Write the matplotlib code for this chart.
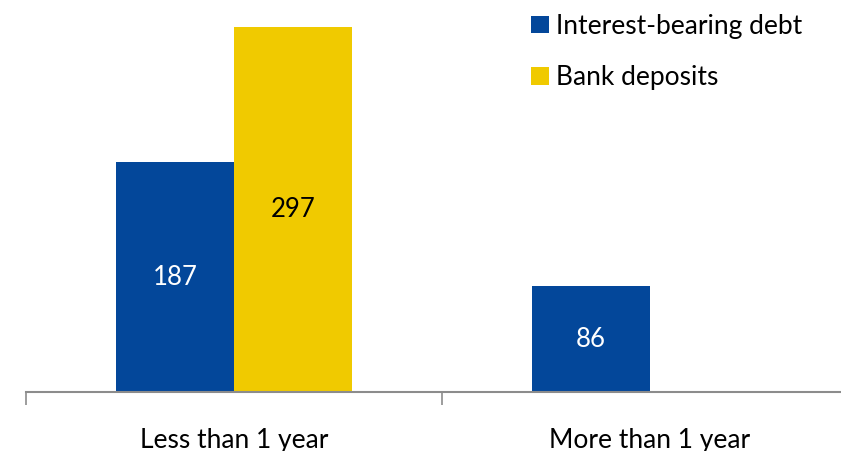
import numpy as np
import matplotlib.pyplot as plt

categories = ['Less than 1 year', 'More than 1 year']
series_names = ['Interest-bearing debt', 'Bank deposits']
debt = [187, 86]
deposits = [297, 0]

blue = '#03479A'
yellow = '#F0CA00'

plt.rcParams['font.family'] = ['Lato', 'DejaVu Sans']

fig = plt.figure(figsize=(8.41, 4.51), dpi=100)
ax = fig.add_axes([26 / 841, 59 / 451, 1 - 26 / 841, 392 / 451])

x = np.arange(len(categories))
w = 0.284
b1 = ax.bar(x - w / 2, debt, w, color=blue, label=series_names[0])
b2 = ax.bar(x + w / 2, deposits, w, color=yellow, label=series_names[1])

for rect, v in zip(b1, debt):
    if v > 0:
        ax.text(rect.get_x() + rect.get_width() / 2, v / 2, str(v),
                ha='center', va='center', color='white', fontsize=18.5)
for rect, v in zip(b2, deposits):
    if v > 0:
        ax.text(rect.get_x() + rect.get_width() / 2, v / 2, str(v),
                ha='center', va='center', color='black', fontsize=18.5)

for s in ['top', 'right', 'left']:
    ax.spines[s].set_visible(False)
ax.spines['bottom'].set_color('#8c8c8c')
ax.spines['bottom'].set_linewidth(1.5)
ax.set_yticks([])

# category separators as major ticks, names on minor ticks
ax.set_xticks([-0.5, 0.5, 1.5])
ax.set_xticklabels([])
ax.tick_params(axis='x', length=9, width=1.2, color='#8c8c8c')
ax.set_xticks(x, minor=True)
ax.set_xticklabels(categories, minor=True, fontsize=19)
ax.tick_params(axis='x', which='minor', length=0, pad=26)

ax.set_xlim(-0.5, 1.459)
ax.set_ylim(0, 319)

leg = ax.legend(loc='upper left', bbox_to_anchor=(0.591, 1.0255), frameon=False,
                fontsize=19, handlelength=0.65, handleheight=0.65,
                handletextpad=0.3, labelspacing=1.0)

fig.savefig('out.png', dpi=100)
